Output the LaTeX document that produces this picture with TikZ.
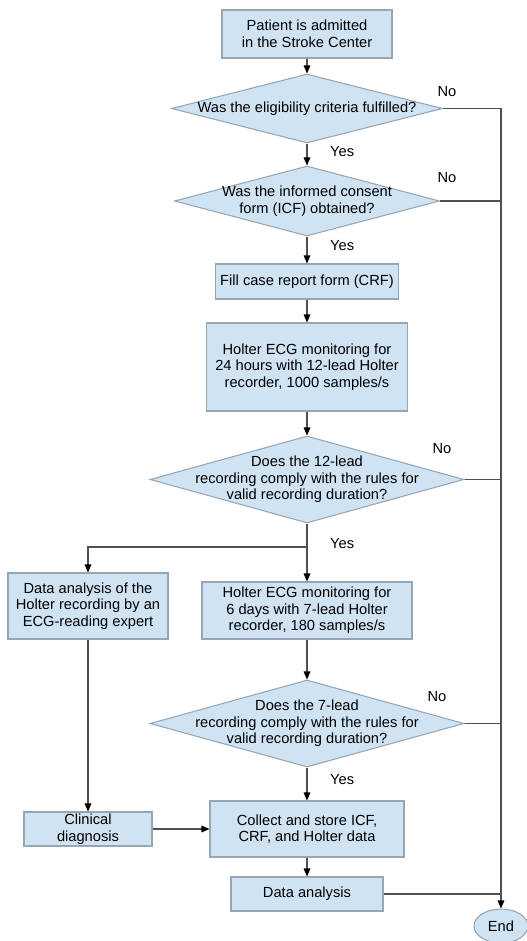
\documentclass[tikz,border=0pt]{standalone}
\usepackage{fontspec}
\setmainfont{Liberation Sans}
\usetikzlibrary{shapes.geometric,arrows.meta}
\definecolor{caixaazul}{HTML}{CFE3F3}
\definecolor{bordacinza}{HTML}{97A6B4}
\definecolor{linhacinza}{HTML}{505050}

\begin{document}
\begin{tikzpicture}[x=0.75pt,y=-0.75pt,
  texto/.style = {align=center,inner sep=0pt,font=\fontsize{11}{12.5}\selectfont},
  caixa/.style = {texto,fill=caixaazul,draw=bordacinza,line width=0.8pt,rectangle},
  decisao/.style = {fill=caixaazul,draw=bordacinza,line width=0.8pt,diamond,inner sep=0pt},
  fim/.style = {texto,fill=caixaazul,draw=bordacinza,line width=0.8pt,ellipse},
  linha/.style = {draw=linhacinza,line width=0.8pt},
  seta/.style = {linha,-{Triangle[length=6pt,width=5pt,color=black]}},
  sim/.style = {texto,pos=0.35,anchor=west,xshift=17pt}]
\useasboundingbox[fill=white] (0,0) rectangle (526,941);

\node[caixa,minimum width=127.5pt,minimum height=36pt] (A) at (307,34) {Patient is admitted\\in the Stroke Center};
\node[decisao,minimum width=203.25pt,minimum height=51.75pt] (B) at (307,108.5) {};
\node[texto] (Bt) at (B) {Was the eligibility criteria fulfilled?};
\node[decisao,minimum width=198.75pt,minimum height=52.5pt] (C) at (307,201) {};
\node[texto] (Ct) at (C) {Was the informed consent\\form (ICF) obtained?};
\node[caixa,minimum width=137.25pt,minimum height=26.25pt] (D) at (307,281.5) {Fill case report form (CRF)};
\node[caixa,minimum width=150.75pt,minimum height=66pt] (E) at (307,367) {Holter ECG monitoring for\\24 hours with 12-lead Holter\\recorder, 1000 samples/s};
\node[decisao,minimum width=235.5pt,minimum height=65.25pt] (F) at (307,479.5) {};
\node[texto] (Ft) at (F) {Does the 12-lead\\recording comply with the rules for\\valid recording duration?};
\node[caixa,minimum width=120pt,minimum height=49.5pt] (G) at (88,606) {Data analysis of the\\Holter recording by an\\ECG-reading expert};
\node[caixa,minimum width=157.5pt,minimum height=42.75pt] (H) at (307,610.5) {Holter ECG monitoring for\\6 days with 7-lead Holter\\recorder, 180 samples/s};
\node[decisao,minimum width=235.5pt,minimum height=65.25pt] (I) at (307,723.5) {};
\node[texto] (It) at (I) {Does the 7-lead\\recording comply with the rules for\\valid recording duration?};
\node[caixa,minimum width=96pt,minimum height=25.5pt] (J) at (88,829) {Clinical\\diagnosis};
\node[caixa,minimum width=145.5pt,minimum height=42pt] (K) at (307,829) {Collect and store ICF,\\CRF, and Holter data};
\node[caixa,minimum width=114pt,minimum height=25.5pt] (L) at (307,894) {Data analysis};
\node[fim,minimum width=40.5pt,minimum height=25.5pt] (M) at (501,926) {End};
\coordinate (R) at (307,547);

\node[texto] (N1) at (447,92) {No};
\node[texto] (N2) at (447,178) {No};
\node[texto] (N3) at (442,449) {No};
\node[texto] (N4) at (437,697) {No};

\draw[seta] (A) -- (B);
\draw[seta] (B) -- node[sim] {Yes} (C);
\draw[seta] (C) -- node[sim] {Yes} (D);
\draw[seta] (D) -- (E);
\draw[seta] (E) -- (F);
\draw[seta] (F) -- node[sim] {Yes} (H);
\draw[seta] (R) -| (G);
\draw[seta] (H) -- (I);
\draw[seta] (I) -- node[sim] {Yes} (K);
\draw[seta] (G) -- (J);
\draw[seta] (J) -- (K);
\draw[seta] (K) -- (L);
\draw[seta] (B.east) -- (B.east -| M.north) -- (M.north);
\draw[linha] (C.east) -- (C.east -| M.north);
\draw[linha] (F.east) -- (F.east -| M.north);
\draw[linha] (I.east) -- (I.east -| M.north);
\draw[linha] (L.east) -- (L.east -| M.north);
\end{tikzpicture}
\end{document}
